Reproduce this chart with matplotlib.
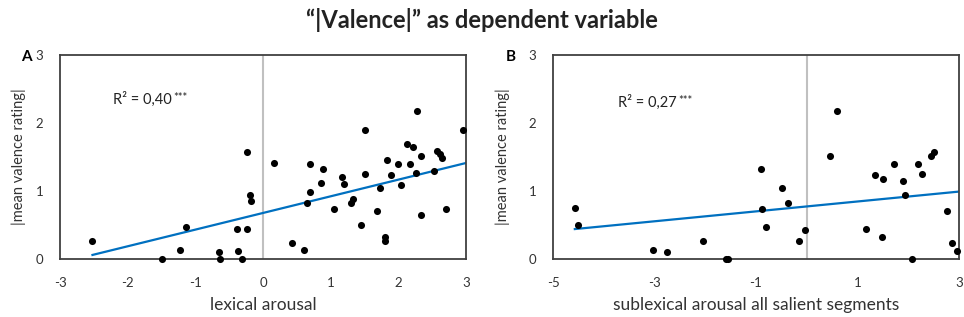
import matplotlib.pyplot as plt
import numpy as np

plt.rcParams["font.family"] = ["Lato", "DejaVu Sans"]
plt.rcParams["axes.unicode_minus"] = False

# panel A: lexical arousal vs |mean valence rating|
lex_x = [-2.52, -1.49, -1.14, -1.22, -0.65, -0.63, -0.38, -0.37, -0.31, -0.23, -0.23, -0.19, -0.17,
         0.16, 0.69, 0.88, 0.69, 0.65, 0.85, 0.43, 0.60, 1.05, 1.17, 1.19, 1.30, 1.33, 1.50, 1.50,
         1.45, 1.69, 1.73, 1.81, 1.81, 1.83, 1.89, 1.99, 2.04, 2.13, 2.21, 2.17, 2.26, 2.27, 2.34,
         2.34, 2.52, 2.57, 2.61, 2.65, 2.70, 2.95]
lex_y = [0.27, 0.00, 0.47, 0.13, 0.10, 0.00, 0.44, 0.12, 0.00, 0.44, 1.58, 0.94, 0.86,
         1.41, 1.40, 1.32, 0.99, 0.83, 1.12, 0.24, 0.13, 0.74, 1.21, 1.11, 0.83, 0.88, 1.89, 1.25,
         0.50, 0.71, 1.05, 0.33, 0.27, 1.46, 1.23, 1.40, 1.09, 1.69, 1.64, 1.39, 1.27, 2.18, 1.52,
         0.65, 1.29, 1.59, 1.55, 1.49, 0.74, 1.89]
lex_fit = (0.245, 0.677)  # slope, intercept
lex_fit_x = [-2.52, 3.0]

# panel B: sublexical arousal (all salient segments)
sub_x = [-4.57, -4.51, -3.03, -2.75, -2.04, -1.60, -1.55, -0.90, -0.88, -0.80, -0.49, -0.36,
         -0.15, -0.03, 0.46, 0.59, 1.17, 1.34, 1.50, 1.48, 1.72, 1.90, 1.94, 2.08, 2.20, 2.28,
         2.44, 2.51, 2.77, 2.87, 2.97]
sub_y = [0.75, 0.50, 0.13, 0.11, 0.27, 0.00, 0.00, 1.32, 0.74, 0.47, 1.05, 0.83,
         0.27, 0.43, 1.52, 2.18, 0.44, 1.23, 1.18, 0.33, 1.39, 1.14, 0.94, 0.00, 1.40, 1.25,
         1.51, 1.58, 0.71, 0.24, 0.12]
sub_fit = (0.0728, 0.773)
sub_fit_x = [-4.57, 3.0]

panels = [
    dict(letter="A", x=lex_x, y=lex_y, fit=lex_fit, fx=lex_fit_x, xlim=(-3, 3),
         xticks=[-3, -2, -1, 0, 1, 2, 3], xlabel="lexical arousal", r2="0,40",
         r2pos=(0.13, 0.785), left=60, letter_x=26, ylab_x=-0.084),
    dict(letter="B", x=sub_x, y=sub_y, fit=sub_fit, fx=sub_fit_x, xlim=(-5, 3),
         xticks=[-5, -3, -1, 1, 3], xlabel="sublexical arousal all salient segments", r2="0,27",
         r2pos=(0.16, 0.77), left=553, letter_x=511, ylab_x=-0.106),
]

W, H = 964, 317
fig = plt.figure(figsize=(W / 100, H / 100), dpi=100)
fig.text(0.5, 1 - 20 / H, "\u201c|Valence|\u201d as dependent variable", ha="center", va="center",
         fontsize=17, fontweight="bold", color="#222222")

for p in panels:
    ax = fig.add_axes([p["left"] / W, (H - 259) / H, 406 / W, 204 / H])
    ax.axvline(0, color="#c0c0c0", lw=1.5, zorder=1)
    fx = np.array(p["fx"])
    ax.plot(fx, p["fit"][0] * fx + p["fit"][1], color="#0070c0", lw=1.6, zorder=2)
    ax.scatter(p["x"], p["y"], s=26, color="black", zorder=3, clip_on=False, linewidths=0)
    ax.set_xlim(*p["xlim"])
    ax.set_ylim(0, 3)
    ax.set_xticks(p["xticks"])
    ax.set_yticks([0, 1, 2, 3])
    ax.tick_params(length=0, labelsize=9.5, colors="#333333")
    ax.tick_params(axis="x", pad=13)
    ax.tick_params(axis="y", pad=12)
    for s in ax.spines.values():
        s.set_color("#404040")
        s.set_linewidth(1.3)
    ax.set_xlabel(p["xlabel"], fontsize=12.5, color="#333333", labelpad=6)
    ax.set_ylabel("|mean valence rating|", fontsize=10.5, color="#333333")
    ax.yaxis.set_label_coords(p["ylab_x"], 0.5)
    r2 = ax.text(*p["r2pos"], "R\u00b2 = " + p["r2"], transform=ax.transAxes,
                 fontsize=10.5, color="#222222", va="center")
    ax.annotate("***", xy=(1, 1), xycoords=r2, xytext=(1, -0.5), textcoords="offset points",
                fontsize=8, color="#222222", ha="left", va="top")
    fig.text(p["letter_x"] / W, 1 - 57 / H, p["letter"], fontsize=11, fontweight="bold",
             ha="center", va="center")

fig.savefig("out.png", dpi=100)
